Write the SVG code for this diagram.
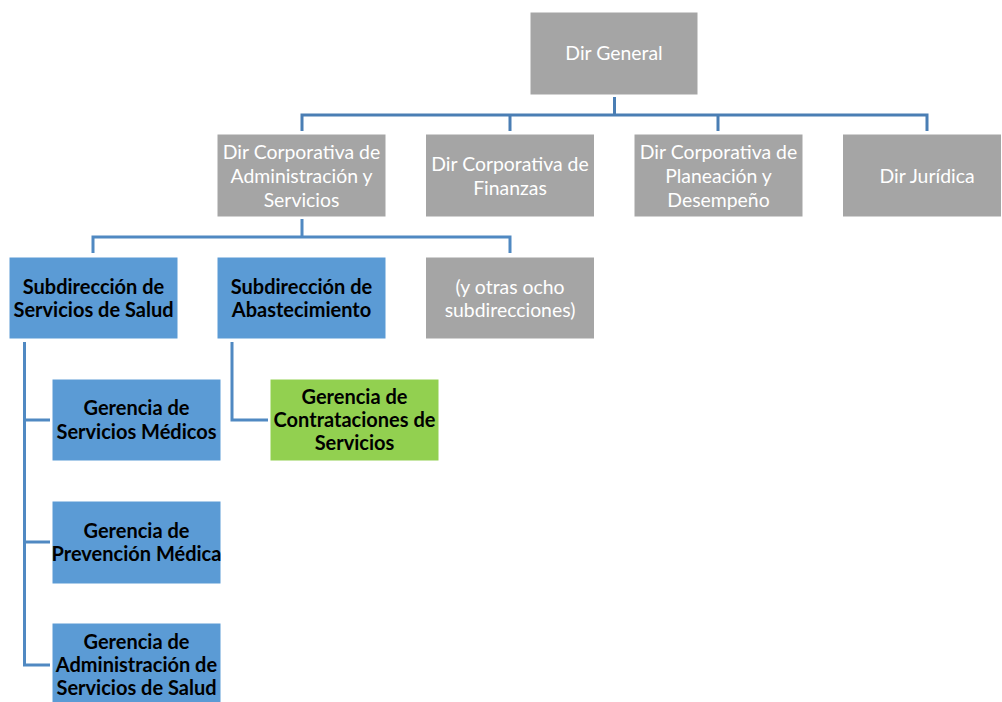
<svg xmlns="http://www.w3.org/2000/svg" width="1002" height="702" viewBox="0 0 1002 702">
<style>
.g{fill:#A5A5A5;stroke:#FFFFFF;stroke-width:1}
.b{fill:#5B9BD5;stroke:#FFFFFF;stroke-width:1}
.n{fill:#92D050;stroke:#FFFFFF;stroke-width:1}
.tw{font-family:Lato,"Liberation Sans",sans-serif;font-size:19.4px;fill:#FFFFFF;text-anchor:middle}
.tb{font-family:Lato,"Liberation Sans",sans-serif;font-size:20px;font-weight:bold;fill:#000000;text-anchor:middle}
.c1{fill:none;stroke:#4A7EB4;stroke-width:3}
.c2{fill:none;stroke:#5089C2;stroke-width:3}
</style>
<rect width="1002" height="702" fill="#FFFFFF"/>
<g id="connectors">
<path class="c1" d="M614.5,97 V115 M302,131 V115 H927 V131 M510,115 V131 M718,115 V131"/>
<path class="c2" d="M302,219 V237 M93,253 V237 H510 V253"/>
<path class="c2" d="M24.5,342 V665 H50 M24.5,420 H50 M24.5,542 H50"/>
<path class="c2" d="M232,342 V420 H268"/>
</g>
<g id="dir-general">
<rect class="g" x="530" y="12" width="168" height="83"/>
<text class="tw" x="614" y="60">Dir General</text>
</g>
<g id="dir-admin">
<rect class="g" x="217" y="134" width="169" height="83"/>
<text class="tw" x="301.5" y="159">Dir Corporativa de</text>
<text class="tw" x="301.5" y="183">Administración y</text>
<text class="tw" x="301.5" y="207">Servicios</text>
</g>
<g id="dir-finanzas">
<rect class="g" x="425.5" y="134" width="169" height="83"/>
<text class="tw" x="510" y="171">Dir Corporativa de</text>
<text class="tw" x="510" y="195">Finanzas</text>
</g>
<g id="dir-planeacion">
<rect class="g" x="634" y="134" width="169" height="83"/>
<text class="tw" x="718.5" y="159">Dir Corporativa de</text>
<text class="tw" x="718.5" y="183">Planeación y</text>
<text class="tw" x="718.5" y="207">Desempeño</text>
</g>
<g id="dir-juridica">
<rect class="g" x="842.5" y="134" width="159" height="83"/>
<text class="tw" x="927" y="183">Dir Jurídica</text>
</g>
<g id="sub-salud">
<rect class="b" x="9" y="257" width="169" height="82"/>
<text class="tb" x="93.5" y="294">Subdirección de</text>
<text class="tb" x="93.5" y="317">Servicios de Salud</text>
</g>
<g id="sub-abastecimiento">
<rect class="b" x="217" y="257" width="169" height="82"/>
<text class="tb" x="301.5" y="294">Subdirección de</text>
<text class="tb" x="301.5" y="317">Abastecimiento</text>
</g>
<g id="sub-otras">
<rect class="g" x="425.5" y="257" width="169" height="82"/>
<text class="tw" x="510" y="294">(y otras ocho</text>
<text class="tw" x="510" y="317">subdirecciones)</text>
</g>
<g id="ger-medicos">
<rect class="b" x="52" y="379" width="169" height="82"/>
<text class="tb" x="136.5" y="415">Gerencia de</text>
<text class="tb" x="136.5" y="439">Servicios Médicos</text>
</g>
<g id="ger-contrataciones">
<rect class="n" x="270" y="379" width="169" height="82"/>
<text class="tb" x="354.5" y="404">Gerencia de</text>
<text class="tb" x="354.5" y="427">Contrataciones de</text>
<text class="tb" x="354.5" y="450">Servicios</text>
</g>
<g id="ger-prevencion">
<rect class="b" x="52" y="501" width="169" height="83"/>
<text class="tb" x="136.5" y="538">Gerencia de</text>
<text class="tb" x="136.5" y="561">Prevención Médica</text>
</g>
<g id="ger-administracion">
<rect class="b" x="52" y="623" width="169" height="83"/>
<text class="tb" x="136.5" y="649">Gerencia de</text>
<text class="tb" x="136.5" y="672">Administración de</text>
<text class="tb" x="136.5" y="695">Servicios de Salud</text>
</g>
</svg>
